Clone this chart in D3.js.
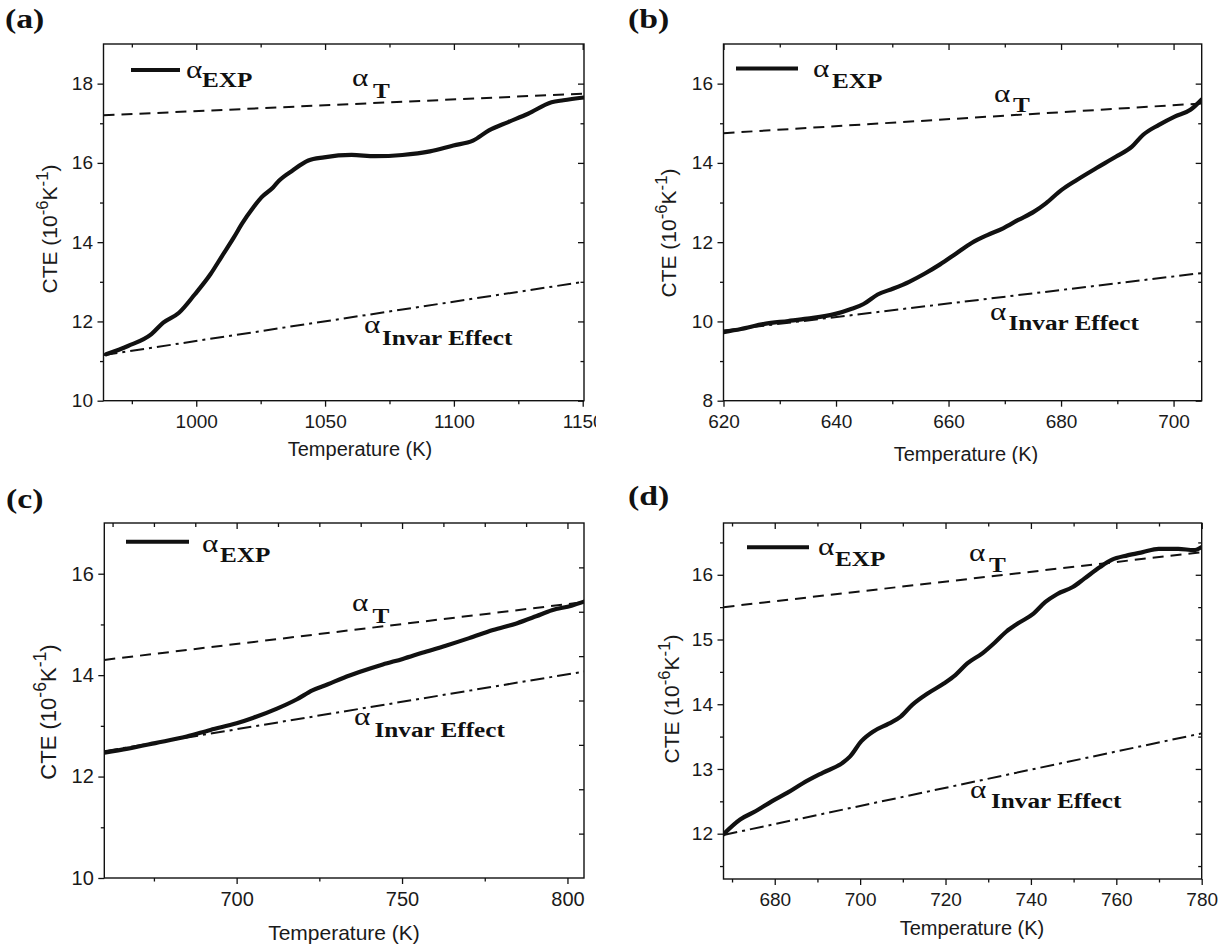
<!DOCTYPE html>
<html>
<head>
<meta charset="utf-8">
<script src="https://cdn.jsdelivr.net/npm/d3@7"></script>
<style>
  body { margin: 0; background: #fff; }
  svg { display: block; }
</style>
</head>
<body>
<svg></svg>
<script>
const SVG_WIDTH = 1223, SVG_HEIGHT = 949;
const SANS = "'Liberation Sans', Arial, sans-serif";
const SERIF = "'Liberation Serif', 'Times New Roman', serif";
const INK = "#111";

// ---- data ----
// (a)
const tempA = [965, 973.5, 982.6, 987.2, 993.3, 999.4, 1005.5, 1010, 1014.6, 1017.7, 1022.2, 1025.3, 1029.8, 1032.1, 1037.4, 1043.5, 1049.6, 1060.3, 1069.4, 1080, 1090.7, 1099.8, 1107.4, 1113.6, 1121.1, 1128.8, 1137.9, 1142.5, 1150.5];
const expA  = [11.17, 11.38, 11.68, 11.97, 12.22, 12.68, 13.19, 13.65, 14.12, 14.46, 14.88, 15.13, 15.38, 15.55, 15.81, 16.06, 16.14, 16.2, 16.17, 16.2, 16.29, 16.44, 16.56, 16.82, 17.03, 17.24, 17.53, 17.58, 17.65];
const tLineA = [[964, 17.2], [1150.5, 17.75]];
const invLineA = [[964, 11.15], [1150.5, 13.0]];
// (b)
const tempB = [620, 623.1, 627.3, 631.5, 634.9, 639.9, 642.8, 644.9, 647.4, 650.2, 653, 655.8, 658.5, 661.3, 664.1, 666.9, 669.7, 672.4, 675.2, 677.3, 680.1, 682.8, 686.3, 689.8, 692.6, 694.6, 697.4, 700.2, 703, 705];
const expB  = [9.73, 9.81, 9.94, 10.01, 10.07, 10.19, 10.32, 10.44, 10.68, 10.83, 11.0, 11.21, 11.44, 11.71, 11.98, 12.18, 12.35, 12.56, 12.77, 12.98, 13.32, 13.57, 13.87, 14.16, 14.41, 14.71, 14.96, 15.17, 15.34, 15.6];
const tLineB = [[620, 14.75], [705, 15.5]];
const invLineB = [[620, 9.77], [705, 11.22]];
// (c)
const tempC = [660, 667.1, 675.4, 684.9, 692.1, 700, 705.1, 712.2, 718.1, 722.9, 727.6, 732.4, 737.1, 744.2, 750.2, 756.1, 763.2, 770.3, 777.5, 784.6, 790.5, 795.3, 801.2, 805];
const expC  = [12.47, 12.55, 12.66, 12.79, 12.92, 13.05, 13.16, 13.34, 13.52, 13.70, 13.82, 13.95, 14.06, 14.21, 14.32, 14.44, 14.58, 14.73, 14.89, 15.02, 15.16, 15.28, 15.37, 15.45];
const tLineC = [[660, 14.3], [805, 15.44]];
const invLineC = [[660, 12.5], [805, 14.07]];
// (d)
const tempD = [667.8, 671.9, 675.6, 679.3, 682.9, 686.6, 691.2, 695.8, 697.6, 700.3, 703.1, 706.7, 709.5, 712.2, 715.9, 719.6, 722.3, 725.1, 728.7, 731.5, 734.2, 737, 740.6, 743.4, 746.1, 749.8, 752.5, 756.2, 758.9, 762.6, 766.2, 769.9, 774.5, 778.2, 780];
const expD  = [11.98, 12.22, 12.35, 12.50, 12.63, 12.78, 12.94, 13.09, 13.19, 13.43, 13.58, 13.70, 13.81, 13.99, 14.17, 14.32, 14.45, 14.63, 14.79, 14.95, 15.12, 15.25, 15.40, 15.58, 15.70, 15.81, 15.94, 16.12, 16.23, 16.30, 16.35, 16.40, 16.40, 16.38, 16.43];
const tLineD = [[668, 15.5], [780, 16.35]];
const invLineD = [[668, 11.98], [780, 13.55]];

// ticks
const xMajorA = [1000, 1050, 1100, 1150], xMinorA = [975, 1025, 1075, 1125];
const yMajorA = [10, 12, 14, 16, 18],     yMinorA = [11, 13, 15, 17];
const xMajorB = [620, 640, 660, 680, 700], xMinorB = [630, 650, 670, 690];
const yMajorB = [8, 10, 12, 14, 16],       yMinorB = [9, 11, 13, 15];
const xMajorC = [700, 750, 800],           xMinorC = [675, 725, 775];
const yMajorC = [10, 12, 14, 16],          yMinorC = [11, 13, 15];
const xTopC = d3.range(662.5, 805, 12.5);
const yRightC = d3.range(1, 8).map(i => 10 + i * 0.875);
const xMajorD = [680, 700, 720, 740, 760, 780], xMinorD = [670, 690, 710, 730, 750, 770];
const yMajorD = [12, 13, 14, 15, 16],            yMinorD = [11.5, 12.5, 13.5, 14.5, 15.5, 16.5];

const svg = d3.select("svg").attr("width", SVG_WIDTH).attr("height", SVG_HEIGHT);

const panels = [
  { id: "a", temp: tempA, cte: expA, tLine: tLineA, invLine: invLineA,
    xMajor: xMajorA, xMinor: xMinorA, yMajor: yMajorA, yMinor: yMinorA,
    xDomain: [964, 1150.5], yDomain: [10, 19],
    left: 103.5, right: 584, top: 44, bottom: 400.7,
    tag: [5, 28], leg: { x1: 131, x2: 180, y: 70, ax: 186, ay: 78, sx: 202, sy: 87 },
    labT: { ax: 352, ay: 86, sx: 373, sy: 98 }, labI: { ax: 364, ay: 333, sx: 382, sy: 345 },
    xTitle: [360, 456], yTitle: [57, 229], titleSize: 20, tickSize: 19, clip: [0, 0, 596, 470] },
  { id: "b", temp: tempB, cte: expB, tLine: tLineB, invLine: invLineB,
    xMajor: xMajorB, xMinor: xMinorB, yMajor: yMajorB, yMinor: yMinorB,
    xDomain: [620, 705], yDomain: [8, 17],
    left: 723.5, right: 1201.7, top: 44, bottom: 400.7,
    tag: [628, 28], leg: { x1: 736, x2: 798, y: 68.5, ax: 813, ay: 77, sx: 832, sy: 88 },
    labT: { ax: 994, ay: 102, sx: 1013, sy: 112 }, labI: { ax: 990, ay: 320, sx: 1008.5, sy: 330 },
    xTitle: [966, 461], yTitle: [676, 233], titleSize: 20, tickSize: 19, clip: [600, 0, 623, 464] },
  { id: "c", temp: tempC, cte: expC, tLine: tLineC, invLine: invLineC,
    xMajor: xMajorC, xMinor: xMinorC, yMajor: yMajorC, yMinor: yMinorC,
    xTop: xTopC, yRight: yRightC,
    xDomain: [660, 805], yDomain: [10, 17],
    left: 104.3, right: 584, top: 523, bottom: 878,
    tag: [6, 508], leg: { x1: 126, x2: 189, y: 541.7, ax: 202, ay: 552, sx: 220, sy: 562 },
    labT: { ax: 352, ay: 611, sx: 372.6, sy: 623 }, labI: { ax: 354, ay: 725, sx: 374.5, sy: 736.5 },
    xTitle: [344, 940], yTitle: [56, 712], titleSize: 21, tickSize: 20, clip: [0, 470, 612, 479] },
  { id: "d", temp: tempD, cte: expD, tLine: tLineD, invLine: invLineD,
    xMajor: xMajorD, xMinor: xMinorD, yMajor: yMajorD, yMinor: yMinorD,
    xDomain: [668, 780], yDomain: [11.3, 16.8],
    left: 723.5, right: 1201.7, top: 523, bottom: 879,
    tag: [628, 505], leg: { x1: 747, x2: 809, y: 547.3, ax: 818, ay: 555, sx: 835, sy: 566 },
    labT: { ax: 969, ay: 561, sx: 989, sy: 571.5 }, labI: { ax: 970, ay: 798, sx: 991, sy: 808 },
    xTitle: [972, 935], yTitle: [679, 699], titleSize: 20, tickSize: 19, clip: [600, 470, 623, 479] }
];

// Times-like labels in the figure are set a little wide
function serif(g, x, y, str, size, bold) {
  return g.append("text")
    .attr("transform", "translate(" + x + "," + y + ") scale(1.2,1)")
    .attr("font-family", SERIF).attr("font-size", size)
    .attr("font-weight", bold ? "bold" : "normal")
    .attr("fill", INK).text(str);
}

function styleAxis(sel, size) {
  sel.selectAll("path.domain").remove();
  sel.selectAll("line").attr("stroke", INK).attr("stroke-width", 1.3);
  sel.selectAll("text").attr("font-family", SANS).attr("font-size", size || 19).attr("fill", "#1a1a1a");
}

function drawPanel(p) {
  const x = d3.scaleLinear().domain(p.xDomain).range([p.left, p.right]);
  const y = d3.scaleLinear().domain(p.yDomain).range([p.bottom, p.top]);

  const clipId = "clip-" + p.id, plotId = "plot-" + p.id;
  const defs = svg.append("defs");
  defs.append("clipPath").attr("id", clipId).append("rect")
    .attr("x", p.clip[0]).attr("y", p.clip[1]).attr("width", p.clip[2]).attr("height", p.clip[3]);
  defs.append("clipPath").attr("id", plotId).append("rect")
    .attr("x", p.left).attr("y", p.top).attr("width", p.right - p.left).attr("height", p.bottom - p.top);

  const g = svg.append("g").attr("clip-path", "url(#" + clipId + ")");

  // axes: bottom/left outward, top/right inward
  const noLab = () => "";
  g.append("g").attr("transform", "translate(0," + p.bottom + ")")
    .call(d3.axisBottom(x).tickValues(p.xMajor).tickSize(6).tickPadding(8).tickFormat(d3.format("d")))
    .call(styleAxis, p.tickSize);
  g.append("g").attr("transform", "translate(0," + p.bottom + ")")
    .call(d3.axisBottom(x).tickValues(p.xMinor).tickSize(3.5).tickFormat(noLab)).call(styleAxis);
  g.append("g").attr("transform", "translate(" + p.left + ",0)")
    .call(d3.axisLeft(y).tickValues(p.yMajor).tickSize(6).tickPadding(4.5).tickFormat(d3.format("d")))
    .call(styleAxis, p.tickSize);
  g.append("g").attr("transform", "translate(" + p.left + ",0)")
    .call(d3.axisLeft(y).tickValues(p.yMinor).tickSize(3.5).tickFormat(noLab)).call(styleAxis);

  if (p.xTop) {
    g.append("g").attr("transform", "translate(0," + p.top + ")")
      .call(d3.axisTop(x).tickValues(p.xTop).tickSize(-4).tickFormat(noLab)).call(styleAxis)
      .selectAll("line").attr("y2", d => (d % 50 === 0 ? 6 : 4));
  } else {
    g.append("g").attr("transform", "translate(0," + p.top + ")")
      .call(d3.axisTop(x).tickValues(p.xMajor).tickSize(-6).tickFormat(noLab)).call(styleAxis);
    g.append("g").attr("transform", "translate(0," + p.top + ")")
      .call(d3.axisTop(x).tickValues(p.xMinor).tickSize(-3.5).tickFormat(noLab)).call(styleAxis);
  }
  if (p.yRight) {
    g.append("g").attr("transform", "translate(" + p.right + ",0)")
      .call(d3.axisRight(y).tickValues(p.yRight).tickSize(-5).tickFormat(noLab)).call(styleAxis);
  } else {
    g.append("g").attr("transform", "translate(" + p.right + ",0)")
      .call(d3.axisRight(y).tickValues(p.yMajor).tickSize(-6).tickFormat(noLab)).call(styleAxis);
    g.append("g").attr("transform", "translate(" + p.right + ",0)")
      .call(d3.axisRight(y).tickValues(p.yMinor).tickSize(-3.5).tickFormat(noLab)).call(styleAxis);
  }

  g.append("rect")
    .attr("x", p.left).attr("y", p.top)
    .attr("width", p.right - p.left).attr("height", p.bottom - p.top)
    .attr("fill", "none").attr("stroke", INK).attr("stroke-width", 1.4);

  // curves
  const plot = g.append("g").attr("clip-path", "url(#" + plotId + ")");
  const straight = d3.line().x(d => x(d[0])).y(d => y(d[1]));
  plot.append("path").datum(p.tLine).attr("d", straight)
    .attr("fill", "none").attr("stroke", INK).attr("stroke-width", 2)
    .attr("stroke-dasharray", "11,7");
  plot.append("path").datum(p.invLine).attr("d", straight)
    .attr("fill", "none").attr("stroke", INK).attr("stroke-width", 2)
    .attr("stroke-dasharray", "14,5,3,5");
  const pts = p.temp.map((t, i) => [t, p.cte[i]]);
  plot.append("path").datum(pts)
    .attr("d", d3.line().x(d => x(d[0])).y(d => y(d[1])).curve(d3.curveMonotoneX))
    .attr("fill", "none").attr("stroke", INK).attr("stroke-width", 4.2)
    .attr("stroke-linejoin", "round").attr("stroke-linecap", "round");

  // legend + line labels
  g.append("line").attr("x1", p.leg.x1).attr("x2", p.leg.x2).attr("y1", p.leg.y).attr("y2", p.leg.y)
    .attr("stroke", INK).attr("stroke-width", 4);
  serif(g, p.leg.ax, p.leg.ay, "α", 26, false);
  serif(g, p.leg.sx, p.leg.sy, "EXP", 21, true);
  serif(g, p.labT.ax, p.labT.ay, "α", 26, false);
  serif(g, p.labT.sx, p.labT.sy, "T", 21, true);
  serif(g, p.labI.ax, p.labI.ay, "α", 26, false);
  serif(g, p.labI.sx, p.labI.sy, "Invar Effect", 21, true);

  // panel tag
  g.append("text")
    .attr("transform", "translate(" + p.tag[0] + "," + p.tag[1] + ") scale(1.25,1)")
    .attr("font-family", SERIF).attr("font-size", 27).attr("font-weight", "bold")
    .attr("fill", INK).text("(" + p.id + ")");

  // axis titles
  g.append("text").attr("x", p.xTitle[0]).attr("y", p.xTitle[1])
    .attr("text-anchor", "middle").attr("font-family", SANS).attr("font-size", p.titleSize)
    .attr("fill", "#1a1a1a").text("Temperature (K)");

  const ySize = p.titleSize + 1;
  const yt = g.append("text")
    .attr("transform", "translate(" + p.yTitle[0] + "," + p.yTitle[1] + ") rotate(-90)")
    .attr("text-anchor", "middle").attr("font-family", SANS).attr("font-size", ySize)
    .attr("fill", "#1a1a1a");
  const sup = ySize * 0.8, lift = ySize * 0.45;
  yt.append("tspan").text("CTE (10");
  yt.append("tspan").attr("font-size", sup).attr("dy", -lift).text("-6");
  yt.append("tspan").attr("dy", lift).text("K");
  yt.append("tspan").attr("font-size", sup).attr("dy", -lift).text("-1");
  yt.append("tspan").attr("dy", lift).text(")");
}

panels.forEach(drawPanel);
</script>
</body>
</html>
